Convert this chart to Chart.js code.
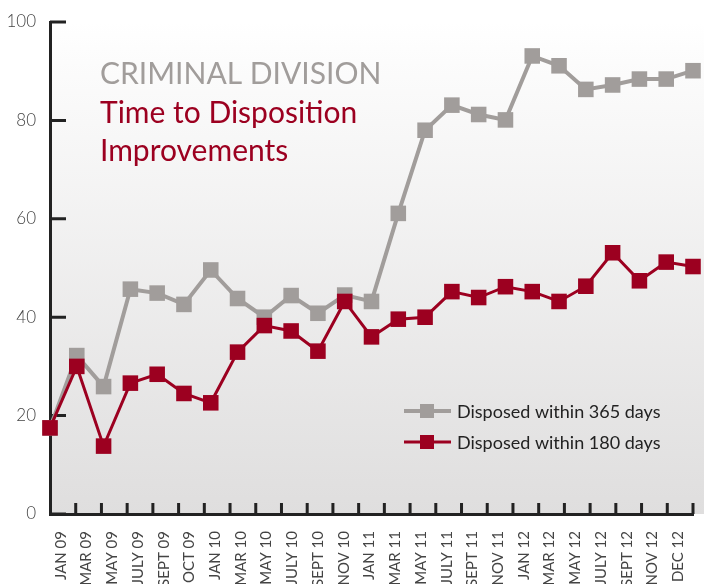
<!DOCTYPE html>
<html>
<head>
<meta charset="utf-8">
<script src="https://cdn.jsdelivr.net/npm/chart.js@4.4.1/dist/chart.umd.min.js"></script>
<style>
  body { margin: 0; background: #fff; }
  canvas { display: block; }
</style>
</head>
<body>
<canvas id="chart" width="704" height="584"></canvas>
<script>
// Data
const months = ['JAN 09', 'MAR 09', 'MAY 09', 'JULY 09', 'SEPT 09', 'OCT 09', 'JAN 10', 'MAR 10',
  'MAY 10', 'JULY 10', 'SEPT 10', 'NOV 10', 'JAN 11', 'MAR 11', 'MAY 11', 'JULY 11', 'SEPT 11',
  'NOV 11', 'JAN 12', 'MAR 12', 'MAY 12', 'JULY 12', 'SEPT 12', 'NOV 12', 'DEC 12'];

const within365 = [17.5, 32.2, 25.9, 45.7, 44.9, 42.6, 49.6, 43.8, 40.0, 44.4, 40.8, 44.5, 43.2,
  61.1, 78.0, 83.1, 81.2, 80.1, 93.1, 91.1, 86.3, 87.2, 88.4, 88.4, 90.1];

const within180 = [17.5, 30.0, 13.8, 26.6, 28.4, 24.5, 22.6, 32.9, 38.3, 37.2, 33.1, 43.2, 36.0,
  39.6, 40.0, 45.2, 44.0, 46.2, 45.2, 43.2, 46.3, 53.1, 47.4, 51.2, 50.3];

const yTicks = [0, 20, 40, 60, 80, 100];

const GREY = '#a19d9b';
const RED = '#9c0020';
const FONT = 'Lato, "Open Sans", sans-serif';

// Gradient behind the plot
const backgroundPlugin = {
  id: 'bg',
  beforeDraw(chart) {
    const { ctx, chartArea } = chart;
    const g = ctx.createLinearGradient(0, chartArea.top, 0, chartArea.bottom);
    g.addColorStop(0, '#ffffff');
    g.addColorStop(0.08, '#fcfcfc');
    g.addColorStop(1, '#dfdede');
    ctx.save();
    ctx.fillStyle = g;
    ctx.fillRect(chartArea.left, chartArea.top, chart.width - chartArea.left, chartArea.bottom - chartArea.top);
    ctx.restore();
  }
};

// Tick marks pointing into the plot (x ticks sit between the month bands)
const innerTicksPlugin = {
  id: 'innerTicks',
  beforeDatasetsDraw(chart) {
    const { ctx, chartArea, scales } = chart;
    const xl = scales.xLabels;
    const half = (xl.getPixelForValue(1) - xl.getPixelForValue(0)) / 2;
    ctx.save();
    ctx.strokeStyle = '#222';
    ctx.lineWidth = 3;
    ctx.beginPath();
    yTicks.forEach(v => {
      const y = scales.y.getPixelForValue(v);
      ctx.moveTo(chartArea.left, y);
      ctx.lineTo(chartArea.left + 16, y);
    });
    months.forEach((m, i) => {
      const x = xl.getPixelForValue(i) + half;
      ctx.moveTo(x, chartArea.bottom);
      ctx.lineTo(x, chartArea.bottom - 11);
    });
    ctx.stroke();
    ctx.restore();
  }
};

// Heading and legend inside the plot
const textPlugin = {
  id: 'texts',
  afterDraw(chart) {
    const { ctx } = chart;
    ctx.save();
    ctx.textBaseline = 'alphabetic';
    ctx.textAlign = 'left';
    ctx.font = '30px ' + FONT;
    ctx.fillStyle = GREY;
    ctx.fillText('CRIMINAL DIVISION', 100, 84);
    ctx.fillStyle = RED;
    ctx.fillText('Time to Disposition', 100, 123);
    ctx.fillText('Improvements', 100, 161);

    const items = [
      { text: 'Disposed within 365 days', color: GREY, width: 4, y: 411 },
      { text: 'Disposed within 180 days', color: RED, width: 3, y: 442 }
    ];
    items.forEach(it => {
      ctx.strokeStyle = it.color;
      ctx.lineWidth = it.width;
      ctx.beginPath();
      ctx.moveTo(404, it.y);
      ctx.lineTo(451, it.y);
      ctx.stroke();
      ctx.fillStyle = it.color;
      ctx.fillRect(420, it.y - 7, 14, 14);
      ctx.fillStyle = '#222';
      ctx.font = '18px ' + FONT;
      ctx.fillText(it.text, 457, it.y + 7);
    });
    ctx.restore();
  }
};

new Chart(document.getElementById('chart'), {
  type: 'line',
  data: {
    labels: months,
    datasets: [
      {
        label: 'Disposed within 365 days',
        data: within365,
        borderColor: GREY,
        backgroundColor: GREY,
        borderWidth: 4,
        pointStyle: 'rect',
        pointRadius: 11,
        pointBorderWidth: 0,
        order: 1
      },
      {
        label: 'Disposed within 180 days',
        data: within180,
        borderColor: RED,
        backgroundColor: RED,
        borderWidth: 3,
        pointStyle: 'rect',
        pointRadius: 11,
        pointBorderWidth: 0,
        order: 0
      }
    ]
  },
  options: {
    responsive: false,
    animation: false,
    layout: { padding: { top: 22, right: 4, left: 0, bottom: 0 } },
    plugins: {
      legend: { display: false },
      tooltip: { enabled: false }
    },
    scales: {
      // points run edge to edge
      x: {
        display: false,
        offset: false
      },
      // month labels sit in bands between the tick marks
      xLabels: {
        type: 'category',
        labels: months,
        position: 'bottom',
        offset: true,
        grid: { display: false },
        border: { display: true, color: '#222', width: 3 },
        ticks: {
          color: '#444',
          font: { family: FONT, size: 15 },
          autoSkip: false,
          minRotation: 90,
          maxRotation: 90,
          labelOffset: -2,
          padding: 9
        },
        afterFit(scale) {
          scale.height = 70;
          scale.paddingLeft = 0;
          scale.paddingRight = 0;
        }
      },
      y: {
        min: 0,
        max: 100,
        grid: { display: false },
        border: { display: true, color: '#222', width: 3 },
        ticks: {
          stepSize: 20,
          color: '#444',
          font: { family: FONT, size: 17, weight: 300 },
          padding: 6
        },
        afterFit(scale) { scale.width = 50; }
      }
    }
  },
  plugins: [backgroundPlugin, innerTicksPlugin, textPlugin]
});
</script>
</body>
</html>
